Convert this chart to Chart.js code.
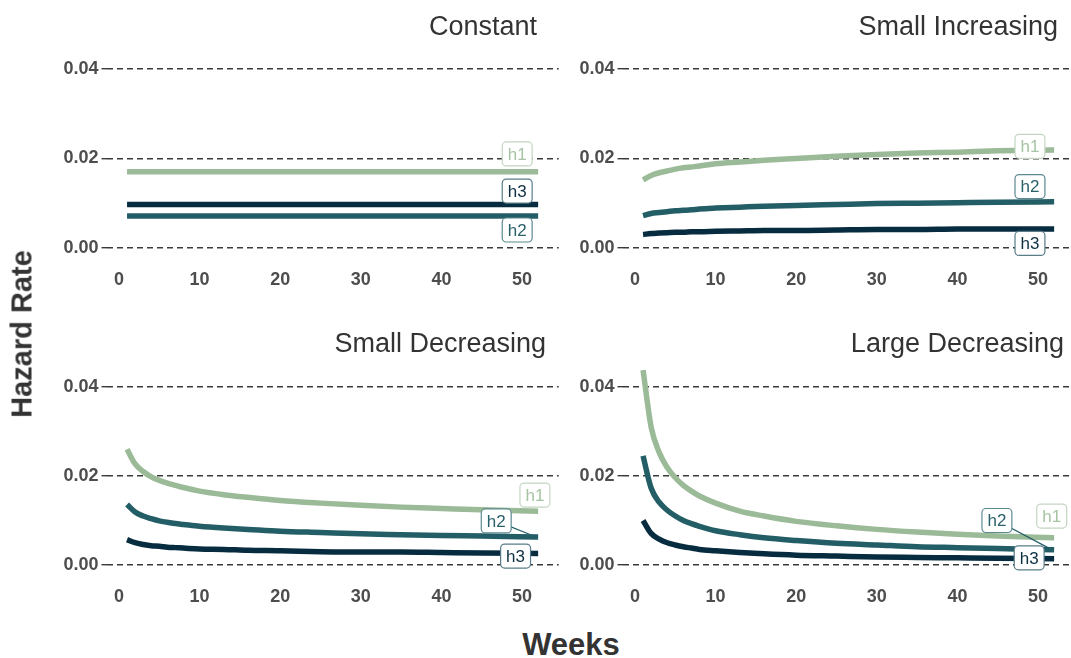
<!DOCTYPE html>
<html>
<head>
<meta charset="utf-8">
<script src="https://cdn.jsdelivr.net/npm/chart.js@4/dist/chart.umd.min.js"></script>
<style>
  html, body { margin: 0; padding: 0; background: #fff; overflow: hidden; }
  body { width: 1071px; height: 658px; position: relative; font-family: "Liberation Sans", Arial, sans-serif; }
  canvas { position: absolute; }
  .axis-title { position: absolute; font-weight: bold; color: #333; white-space: nowrap; }
  #ytitle { font-size: 29px; left: 22px; top: 334px; transform: translate(-50%, -50%) rotate(-90deg); }
  #xtitle { font-size: 31px; left: 571px; top: 645px; transform: translate(-50%, -50%); }
</style>
</head>
<body>
<canvas id="p0"></canvas>
<canvas id="p1"></canvas>
<canvas id="p2"></canvas>
<canvas id="p3"></canvas>
<div class="axis-title" id="ytitle">Hazard Rate</div>
<div class="axis-title" id="xtitle">Weeks</div>
<script>
// data
const weeks = [1, 2, 3, 4, 5, 6, 7, 8, 10, 13, 16, 20, 25, 30, 35, 40, 45, 52];
const xTicks = [0, 10, 20, 30, 40, 50];
const yTicks = [0, 0.02, 0.04];
const seriesNames = ['h1', 'h2', 'h3'];
const panelTitles = ['Constant', 'Small Increasing', 'Small Decreasing', 'Large Decreasing'];

const constantH1 = [0.0170, 0.0170, 0.0170, 0.0170, 0.0170, 0.0170, 0.0170, 0.0170, 0.0170, 0.0170, 0.0170, 0.0170, 0.0170, 0.0170, 0.0170, 0.0170, 0.0170, 0.0170];
const constantH2 = [0.0071, 0.0071, 0.0071, 0.0071, 0.0071, 0.0071, 0.0071, 0.0071, 0.0071, 0.0071, 0.0071, 0.0071, 0.0071, 0.0071, 0.0071, 0.0071, 0.0071, 0.0071];
const constantH3 = [0.0097, 0.0097, 0.0097, 0.0097, 0.0097, 0.0097, 0.0097, 0.0097, 0.0097, 0.0097, 0.0097, 0.0097, 0.0097, 0.0097, 0.0097, 0.0097, 0.0097, 0.0097];

const smallIncH1 = [0.0152, 0.0162, 0.0168, 0.0172, 0.0176, 0.0179, 0.0181, 0.0183, 0.0188, 0.0192, 0.0196, 0.0200, 0.0205, 0.0209, 0.0212, 0.0214, 0.0217, 0.0219];
const smallIncH2 = [0.0072, 0.0077, 0.0079, 0.0081, 0.0083, 0.0084, 0.0085, 0.0087, 0.0089, 0.0091, 0.0093, 0.0095, 0.0097, 0.0099, 0.0100, 0.0101, 0.0102, 0.0103];
const smallIncH3 = [0.0030, 0.0032, 0.0033, 0.0034, 0.0035, 0.0035, 0.0036, 0.0036, 0.0037, 0.0038, 0.0039, 0.0039, 0.0040, 0.0041, 0.0041, 0.0042, 0.0042, 0.0042];

const smallDecH1 = [0.0260, 0.0227, 0.0210, 0.0198, 0.0190, 0.0184, 0.0179, 0.0174, 0.0166, 0.0158, 0.0152, 0.0145, 0.0139, 0.0134, 0.0130, 0.0127, 0.0124, 0.0121];
const smallDecH2 = [0.0136, 0.0119, 0.0110, 0.0104, 0.0099, 0.0096, 0.0093, 0.0091, 0.0087, 0.0083, 0.0080, 0.0076, 0.0073, 0.0070, 0.0068, 0.0066, 0.0065, 0.0063];
const smallDecH3 = [0.0057, 0.0050, 0.0046, 0.0043, 0.0042, 0.0040, 0.0039, 0.0038, 0.0036, 0.0035, 0.0033, 0.0032, 0.0030, 0.0029, 0.0029, 0.0028, 0.0027, 0.0026];

const largeDecH1 = [0.0438, 0.0310, 0.0253, 0.0219, 0.0196, 0.0179, 0.0166, 0.0155, 0.0139, 0.0121, 0.0110, 0.0098, 0.0088, 0.0080, 0.0074, 0.0069, 0.0065, 0.0061];
const largeDecH2 = [0.0245, 0.0173, 0.0141, 0.0123, 0.0110, 0.0100, 0.0093, 0.0087, 0.0077, 0.0068, 0.0061, 0.0055, 0.0049, 0.0045, 0.0041, 0.0039, 0.0037, 0.0034];
const largeDecH3 = [0.0100, 0.0071, 0.0058, 0.0050, 0.0045, 0.0041, 0.0038, 0.0035, 0.0032, 0.0028, 0.0025, 0.0022, 0.0020, 0.0018, 0.0017, 0.0016, 0.0015, 0.0014];

const panelSeries = [
  [constantH1, constantH2, constantH3],
  [smallIncH1, smallIncH2, smallIncH3],
  [smallDecH1, smallDecH2, smallDecH3],
  [largeDecH1, largeDecH2, largeDecH3]
];

// styling + layout (page pixels)
const lineColors = ['#9bba97', '#235d66', '#072c3f'];
const labelText = ['#a6c3a3', '#2a6069', '#0d2f42'];
const labelBorder = ['#c3d6c1', '#5c8990', '#587c88'];
const FONT = '"Liberation Sans", Arial, sans-serif';
const X_MIN = -1.55, X_MAX = 54.55, Y_MIN = -0.0007, Y_MAX = 0.0459;

const panels = [
  { box: [0, 0, 560, 300], area: [106.5, 42.6, 558.7, 251], titleRight: 537, titleBase: 35 },
  { box: [540, 0, 535, 300], area: [622.5, 42.6, 1074.7, 251], titleRight: 1058, titleBase: 35 },
  { box: [0, 320, 560, 300], area: [106.5, 360.7, 558.7, 568.1], titleRight: 546, titleBase: 352 },
  { box: [540, 320, 535, 300], area: [622.5, 360.7, 1074.7, 568.1], titleRight: 1064, titleBase: 352 }
];

// repel-style label anchors in data units: [week, hazard, leader?]
const labelSpots = [
  [[49.4, 0.0210, false], [49.4, 0.0040, false], [49.4, 0.0127, false]],
  [[49.0, 0.0227, false], [49.0, 0.0137, false], [49.0, 0.0010, false]],
  [[51.6, 0.0157, false], [46.8, 0.0099, true], [49.2, 0.0020, false]],
  [[51.7, 0.0110, false], [44.9, 0.0100, true], [48.9, 0.0016, false]]
];

const panelDecor = {
  id: 'panelDecor',
  afterDatasetsDraw(chart, args, opts) {
    const ctx = chart.ctx;
    const xs = chart.scales.x, ys = chart.scales.y;
    ctx.save();
    ctx.font = '17px ' + FONT;
    opts.spots.forEach((s, i) => {
      const cx = xs.getPixelForValue(s[0]);
      const cy = ys.getPixelForValue(s[1]);
      if (s[2]) {
        const pts = chart.getDatasetMeta(i).data;
        const end = pts[pts.length - 1];
        ctx.strokeStyle = lineColors[i];
        ctx.lineWidth = 1.2;
        ctx.beginPath();
        ctx.moveTo(cx, cy);
        ctx.lineTo(end.x - 2, end.y);
        ctx.stroke();
      }
      const w = ctx.measureText(seriesNames[i]).width + 11, h = 24;
      ctx.beginPath();
      ctx.roundRect(cx - w / 2, cy - h / 2, w, h, 4);
      ctx.fillStyle = '#fff';
      ctx.fill();
      ctx.lineWidth = 1.2;
      ctx.strokeStyle = labelBorder[i];
      ctx.stroke();
      ctx.fillStyle = labelText[i];
      ctx.textAlign = 'center';
      ctx.textBaseline = 'middle';
      ctx.fillText(seriesNames[i], cx, cy + 1);
    });
    // facet title
    ctx.font = '27px ' + FONT;
    ctx.fillStyle = '#333';
    ctx.textAlign = 'right';
    ctx.textBaseline = 'alphabetic';
    ctx.fillText(opts.title, opts.titleX, opts.titleY);
    ctx.restore();
  }
};

function makePanel(k) {
  const p = panels[k];
  const [left, top, width, height] = p.box;
  const [al, at, ar, ab] = p.area;
  const cv = document.getElementById('p' + k);
  cv.width = width; cv.height = height;
  cv.style.left = left + 'px'; cv.style.top = top + 'px';

  const datasets = panelSeries[k].map((vals, i) => ({
    label: seriesNames[i],
    data: weeks.map((w, j) => ({ x: w, y: vals[j] })),
    borderColor: lineColors[i],
    borderWidth: 5.5,
    pointRadius: 0,
    cubicInterpolationMode: 'monotone',
    borderCapStyle: 'butt'
  }));
  return new Chart(cv, {
    type: 'line',
    data: { datasets },
    plugins: [panelDecor],
    options: {
      responsive: false,
      animation: false,
      layout: { padding: { left: 0, top: at - top, right: left + width - ar, bottom: 0 } },
      plugins: {
        legend: { display: false },
        tooltip: { enabled: false },
        panelDecor: { spots: labelSpots[k], title: panelTitles[k], titleX: p.titleRight - left, titleY: p.titleBase - top }
      },
      scales: {
        x: {
          type: 'linear', min: X_MIN, max: X_MAX,
          afterBuildTicks: s => { s.ticks = xTicks.map(v => ({ value: v })); },
          afterFit: s => { s.height = top + height - ab; },
          grid: { display: false, drawTicks: false },
          border: { display: false },
          ticks: { padding: 18, color: '#4d4d4d', font: { family: FONT, size: 18, weight: 'bold' } }
        },
        y: {
          type: 'linear', min: Y_MIN, max: Y_MAX,
          afterBuildTicks: s => { s.ticks = yTicks.map(v => ({ value: v })); },
          afterFit: s => { s.width = al - left; },
          grid: { color: '#3a3a3a', lineWidth: 1.4, tickLength: 5, tickColor: '#3a3a3a', tickWidth: 1.4, tickBorderDash: [] },
          border: { display: false, dash: [6, 4] },
          ticks: { padding: 3, color: '#4d4d4d', font: { family: FONT, size: 18, weight: 'bold' },
                   callback: v => v.toFixed(2) }
        }
      }
    }
  });
}

const charts = [0, 1, 2, 3].map(makePanel);
</script>
</body>
</html>
